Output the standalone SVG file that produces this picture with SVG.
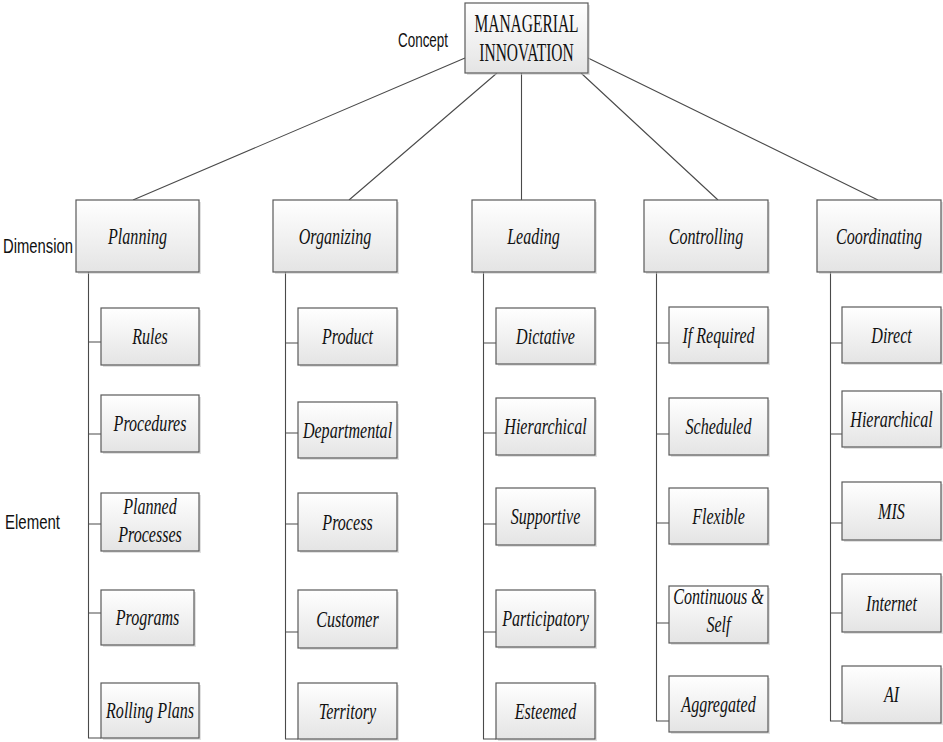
<svg xmlns="http://www.w3.org/2000/svg" width="943" height="742" viewBox="0 0 943 742">
<defs>
<linearGradient id="g" x1="0" y1="0" x2="0" y2="1">
<stop offset="0" stop-color="#ffffff"/>
<stop offset="1" stop-color="#e4e4e4"/>
</linearGradient>
<style>
.box{fill:url(#g);stroke:#5a5a5a;stroke-width:1.2}
.sh{fill:#c8c8c8;opacity:0.55}
.t{font-family:"Liberation Serif","Times New Roman",serif;font-style:italic;font-size:24px;fill:#111;text-anchor:middle}
.title{font-family:"Liberation Serif","Times New Roman",serif;font-size:25px;fill:#111;text-anchor:middle}
.lab{font-family:"Liberation Sans",Arial,sans-serif;font-size:21px;fill:#111}
.c{fill:none;stroke:#4a4a4a;stroke-width:1.1}
</style>
</defs>
<rect width="943" height="742" fill="#ffffff"/>
<g id="connectors">
<path class="c" d="M465,58 L133,200 M497,73 L349,200 M521.5,73 V200 M581,73 L718,200 M588,58 L878,200"/>
<path class="c" d="M88.5,272 V738 H101 M88.5,342 H101 M88.5,434 H101 M88.5,524 H101 M88.5,613 H101"/>
<path class="c" d="M285.5,272 V739 H298 M285.5,343 H298 M285.5,433 H298 M285.5,524 H298 M285.5,632 H298"/>
<path class="c" d="M483.5,272 V739 H496 M483.5,343 H496 M483.5,433 H496 M483.5,524 H496 M483.5,632 H496"/>
<path class="c" d="M656.5,272 V721 H669 M656.5,343 H669 M656.5,434 H669 M656.5,523 H669 M656.5,623 H669"/>
<path class="c" d="M830.5,272 V721 H842 M830.5,343 H842 M830.5,434 H842 M830.5,523 H842 M830.5,613 H842"/>
</g>
<g id="labels">
<text class="lab" x="398" y="47" textLength="50" lengthAdjust="spacingAndGlyphs">Concept</text>
<text class="lab" x="3" y="253" textLength="70" lengthAdjust="spacingAndGlyphs">Dimension</text>
<text class="lab" x="5" y="529" textLength="55" lengthAdjust="spacingAndGlyphs">Element</text>
</g>
<g id="concept">
<rect class="sh" x="467" y="5" width="123" height="70"/>
<rect class="box" x="465" y="3" width="123" height="70"/>
<text class="title" transform="translate(526.5,32) scale(0.62,1)">MANAGERIAL</text>
<text class="title" transform="translate(526.5,61) scale(0.62,1)">INNOVATION</text>
</g>
<g id="dim-planning">
<rect class="sh" x="78" y="202" width="123" height="72"/>
<rect class="box" x="76" y="200" width="123" height="72"/>
<text class="t" transform="translate(137.5,244) scale(0.67,1)">Planning</text>
</g>
<g id="dim-organizing">
<rect class="sh" x="275" y="202" width="124" height="72"/>
<rect class="box" x="273" y="200" width="124" height="72"/>
<text class="t" transform="translate(335,244) scale(0.67,1)">Organizing</text>
</g>
<g id="dim-leading">
<rect class="sh" x="474" y="202" width="123" height="72"/>
<rect class="box" x="472" y="200" width="123" height="72"/>
<text class="t" transform="translate(533.5,244) scale(0.67,1)">Leading</text>
</g>
<g id="dim-controlling">
<rect class="sh" x="646" y="202" width="124" height="72"/>
<rect class="box" x="644" y="200" width="124" height="72"/>
<text class="t" transform="translate(706,244) scale(0.67,1)">Controlling</text>
</g>
<g id="dim-coordinating">
<rect class="sh" x="819" y="202" width="124" height="72"/>
<rect class="box" x="817" y="200" width="124" height="72"/>
<text class="t" transform="translate(879,244) scale(0.67,1)">Coordinating</text>
</g>
<g id="el-rules"><rect class="sh" x="103" y="310" width="98" height="57"/><rect class="box" x="101" y="308" width="98" height="57"/><text class="t" transform="translate(150,344) scale(0.67,1)">Rules</text></g>
<g id="el-procedures"><rect class="sh" x="103" y="397" width="98" height="57"/><rect class="box" x="101" y="395" width="98" height="57"/><text class="t" transform="translate(150,431) scale(0.67,1)">Procedures</text></g>
<g id="el-planned"><rect class="sh" x="103" y="495" width="98" height="58"/><rect class="box" x="101" y="493" width="98" height="58"/><text class="t" transform="translate(150,514) scale(0.67,1)">Planned</text><text class="t" transform="translate(150,542) scale(0.67,1)">Processes</text></g>
<g id="el-programs"><rect class="sh" x="103" y="592" width="93" height="55"/><rect class="box" x="101" y="590" width="93" height="55"/><text class="t" transform="translate(147.5,625) scale(0.67,1)">Programs</text></g>
<g id="el-rolling"><rect class="sh" x="103" y="685" width="98" height="55"/><rect class="box" x="101" y="683" width="98" height="55"/><text class="t" transform="translate(150,718) scale(0.67,1)">Rolling Plans</text></g>
<g id="el-product"><rect class="sh" x="300" y="310" width="99" height="57"/><rect class="box" x="298" y="308" width="99" height="57"/><text class="t" transform="translate(347.5,344) scale(0.67,1)">Product</text></g>
<g id="el-departmental"><rect class="sh" x="300" y="404" width="99" height="56"/><rect class="box" x="298" y="402" width="99" height="56"/><text class="t" transform="translate(347.5,437.5) scale(0.67,1)">Departmental</text></g>
<g id="el-process"><rect class="sh" x="300" y="495" width="99" height="58"/><rect class="box" x="298" y="493" width="99" height="58"/><text class="t" transform="translate(347.5,529.5) scale(0.67,1)">Process</text></g>
<g id="el-customer"><rect class="sh" x="300" y="592" width="99" height="58"/><rect class="box" x="298" y="590" width="99" height="58"/><text class="t" transform="translate(347.5,626.5) scale(0.67,1)">Customer</text></g>
<g id="el-territory"><rect class="sh" x="300" y="685" width="99" height="56"/><rect class="box" x="298" y="683" width="99" height="56"/><text class="t" transform="translate(347.5,718.5) scale(0.67,1)">Territory</text></g>
<g id="el-dictative"><rect class="sh" x="498" y="310" width="99" height="56"/><rect class="box" x="496" y="308" width="99" height="56"/><text class="t" transform="translate(545.5,343.5) scale(0.67,1)">Dictative</text></g>
<g id="el-hierarchical-l"><rect class="sh" x="498" y="400" width="99" height="57"/><rect class="box" x="496" y="398" width="99" height="57"/><text class="t" transform="translate(545.5,434) scale(0.67,1)">Hierarchical</text></g>
<g id="el-supportive"><rect class="sh" x="498" y="490" width="99" height="57"/><rect class="box" x="496" y="488" width="99" height="57"/><text class="t" transform="translate(545.5,524) scale(0.67,1)">Supportive</text></g>
<g id="el-participatory"><rect class="sh" x="498" y="592" width="99" height="57"/><rect class="box" x="496" y="590" width="99" height="57"/><text class="t" transform="translate(545.5,626) scale(0.67,1)">Participatory</text></g>
<g id="el-esteemed"><rect class="sh" x="498" y="685" width="99" height="56"/><rect class="box" x="496" y="683" width="99" height="56"/><text class="t" transform="translate(545.5,718.5) scale(0.67,1)">Esteemed</text></g>
<g id="el-ifrequired"><rect class="sh" x="671" y="309" width="99" height="56"/><rect class="box" x="669" y="307" width="99" height="56"/><text class="t" transform="translate(718.5,342.5) scale(0.67,1)">If Required</text></g>
<g id="el-scheduled"><rect class="sh" x="671" y="400" width="99" height="57"/><rect class="box" x="669" y="398" width="99" height="57"/><text class="t" transform="translate(718.5,434) scale(0.67,1)">Scheduled</text></g>
<g id="el-flexible"><rect class="sh" x="671" y="490" width="99" height="56"/><rect class="box" x="669" y="488" width="99" height="56"/><text class="t" transform="translate(718.5,523.5) scale(0.67,1)">Flexible</text></g>
<g id="el-continuous"><rect class="sh" x="671" y="588" width="99" height="57"/><rect class="box" x="669" y="586" width="99" height="57"/><text class="t" transform="translate(718.5,603.5) scale(0.67,1)">Continuous &amp;</text><text class="t" transform="translate(718.5,632) scale(0.67,1)">Self</text></g>
<g id="el-aggregated"><rect class="sh" x="671" y="678" width="99" height="56"/><rect class="box" x="669" y="676" width="99" height="56"/><text class="t" transform="translate(718.5,711.5) scale(0.67,1)">Aggregated</text></g>
<g id="el-direct"><rect class="sh" x="844" y="309" width="99" height="56"/><rect class="box" x="842" y="307" width="99" height="56"/><text class="t" transform="translate(891.5,342.5) scale(0.67,1)">Direct</text></g>
<g id="el-hierarchical-c"><rect class="sh" x="844" y="393" width="99" height="56"/><rect class="box" x="842" y="391" width="99" height="56"/><text class="t" transform="translate(891.5,426.5) scale(0.67,1)">Hierarchical</text></g>
<g id="el-mis"><rect class="sh" x="844" y="484" width="99" height="58"/><rect class="box" x="842" y="482" width="99" height="58"/><text class="t" transform="translate(891.5,518.5) scale(0.67,1)">MIS</text></g>
<g id="el-internet"><rect class="sh" x="844" y="576" width="99" height="58"/><rect class="box" x="842" y="574" width="99" height="58"/><text class="t" transform="translate(891.5,610.5) scale(0.67,1)">Internet</text></g>
<g id="el-ai"><rect class="sh" x="844" y="668" width="99" height="57"/><rect class="box" x="842" y="666" width="99" height="57"/><text class="t" transform="translate(891.5,702) scale(0.67,1)">AI</text></g>
</svg>
